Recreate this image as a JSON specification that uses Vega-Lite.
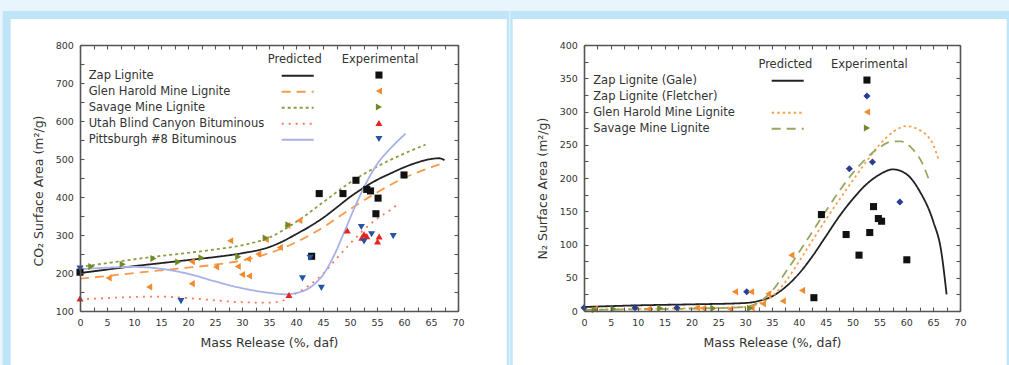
{
  "$schema": "https://vega.github.io/schema/vega-lite/v6.json",
  "background": "#e8f5fc",
  "padding": {"left": 2, "top": 10, "right": 0, "bottom": 0},
  "spacing": 0,
  "resolve": {"scale": {"color": "independent", "shape": "independent", "strokeDash": "independent"}},
  "config": {
    "font": "DejaVu Sans",
    "view": {"stroke": null},
    "axis": {
      "labelFont": "DejaVu Sans", "labelFontSize": 9.5, "labelColor": "#333333",
      "titleFont": "DejaVu Sans", "titleFontSize": 12.5, "titleFontWeight": "normal", "titleColor": "#333333",
      "domainColor": "#555555", "domainWidth": 1.6, "tickColor": "#555555", "tickWidth": 1.1, "tickSize": -4,
      "grid": false, "labelFlush": false, "labelOverlap": false
    },
    "legend": {
      "labelFont": "DejaVu Sans", "labelFontSize": 11.5, "labelColor": "#333333",
      "titleFont": "DejaVu Sans", "titleFontSize": 11.5, "titleFontWeight": "normal", "titleColor": "#333333",
      "padding": 0, "titlePadding": 4, "orient": "none", "direction": "vertical",
      "labelLimit": 400, "titleLimit": 400
    }
  },
  "datasets": {
    "co2_pred": [
      {"series": "Zap Lignite", "x": 0, "y": 200}, {"series": "Zap Lignite", "x": 5, "y": 209}, {"series": "Zap Lignite", "x": 10, "y": 218}, {"series": "Zap Lignite", "x": 15, "y": 226}, {"series": "Zap Lignite", "x": 20, "y": 234}, {"series": "Zap Lignite", "x": 25, "y": 242}, {"series": "Zap Lignite", "x": 30, "y": 252}, {"series": "Zap Lignite", "x": 35, "y": 268}, {"series": "Zap Lignite", "x": 37.5, "y": 283}, {"series": "Zap Lignite", "x": 40, "y": 302}, {"series": "Zap Lignite", "x": 42.5, "y": 322}, {"series": "Zap Lignite", "x": 45, "y": 345}, {"series": "Zap Lignite", "x": 47.5, "y": 372}, {"series": "Zap Lignite", "x": 50, "y": 400}, {"series": "Zap Lignite", "x": 52.5, "y": 424}, {"series": "Zap Lignite", "x": 55, "y": 445}, {"series": "Zap Lignite", "x": 57.5, "y": 462}, {"series": "Zap Lignite", "x": 60, "y": 478}, {"series": "Zap Lignite", "x": 62.5, "y": 491}, {"series": "Zap Lignite", "x": 65, "y": 500}, {"series": "Zap Lignite", "x": 66.5, "y": 502}, {"series": "Zap Lignite", "x": 67.5, "y": 497},
      {"series": "Glen Harold Mine Lignite", "x": 0, "y": 185}, {"series": "Glen Harold Mine Lignite", "x": 5, "y": 192}, {"series": "Glen Harold Mine Lignite", "x": 10, "y": 200}, {"series": "Glen Harold Mine Lignite", "x": 15, "y": 207}, {"series": "Glen Harold Mine Lignite", "x": 20, "y": 214}, {"series": "Glen Harold Mine Lignite", "x": 25, "y": 222}, {"series": "Glen Harold Mine Lignite", "x": 30, "y": 233}, {"series": "Glen Harold Mine Lignite", "x": 35, "y": 252}, {"series": "Glen Harold Mine Lignite", "x": 40, "y": 281}, {"series": "Glen Harold Mine Lignite", "x": 45, "y": 320}, {"series": "Glen Harold Mine Lignite", "x": 50, "y": 368}, {"series": "Glen Harold Mine Lignite", "x": 55, "y": 412}, {"series": "Glen Harold Mine Lignite", "x": 60, "y": 450}, {"series": "Glen Harold Mine Lignite", "x": 65, "y": 478}, {"series": "Glen Harold Mine Lignite", "x": 67.5, "y": 490},
      {"series": "Savage Mine Lignite", "x": 0, "y": 216}, {"series": "Savage Mine Lignite", "x": 5, "y": 226}, {"series": "Savage Mine Lignite", "x": 10, "y": 236}, {"series": "Savage Mine Lignite", "x": 15, "y": 245}, {"series": "Savage Mine Lignite", "x": 20, "y": 253}, {"series": "Savage Mine Lignite", "x": 25, "y": 262}, {"series": "Savage Mine Lignite", "x": 30, "y": 273}, {"series": "Savage Mine Lignite", "x": 35, "y": 293}, {"series": "Savage Mine Lignite", "x": 40, "y": 334}, {"series": "Savage Mine Lignite", "x": 45, "y": 386}, {"series": "Savage Mine Lignite", "x": 50, "y": 438}, {"series": "Savage Mine Lignite", "x": 55, "y": 480}, {"series": "Savage Mine Lignite", "x": 60, "y": 514}, {"series": "Savage Mine Lignite", "x": 64, "y": 538},
      {"series": "Utah Blind Canyon Bituminous", "x": 0, "y": 131}, {"series": "Utah Blind Canyon Bituminous", "x": 5, "y": 134}, {"series": "Utah Blind Canyon Bituminous", "x": 10, "y": 137}, {"series": "Utah Blind Canyon Bituminous", "x": 15, "y": 138}, {"series": "Utah Blind Canyon Bituminous", "x": 20, "y": 134}, {"series": "Utah Blind Canyon Bituminous", "x": 25, "y": 128}, {"series": "Utah Blind Canyon Bituminous", "x": 30, "y": 123}, {"series": "Utah Blind Canyon Bituminous", "x": 35, "y": 122}, {"series": "Utah Blind Canyon Bituminous", "x": 37.5, "y": 127}, {"series": "Utah Blind Canyon Bituminous", "x": 40, "y": 146}, {"series": "Utah Blind Canyon Bituminous", "x": 42.5, "y": 168}, {"series": "Utah Blind Canyon Bituminous", "x": 45, "y": 198}, {"series": "Utah Blind Canyon Bituminous", "x": 47.5, "y": 238}, {"series": "Utah Blind Canyon Bituminous", "x": 50, "y": 277}, {"series": "Utah Blind Canyon Bituminous", "x": 52.5, "y": 313}, {"series": "Utah Blind Canyon Bituminous", "x": 55, "y": 343}, {"series": "Utah Blind Canyon Bituminous", "x": 57.5, "y": 366}, {"series": "Utah Blind Canyon Bituminous", "x": 58.5, "y": 377},
      {"series": "Pittsburgh #8 Bituminous", "x": 0, "y": 210}, {"series": "Pittsburgh #8 Bituminous", "x": 5, "y": 214}, {"series": "Pittsburgh #8 Bituminous", "x": 10, "y": 216}, {"series": "Pittsburgh #8 Bituminous", "x": 15, "y": 211}, {"series": "Pittsburgh #8 Bituminous", "x": 20, "y": 198}, {"series": "Pittsburgh #8 Bituminous", "x": 25, "y": 178}, {"series": "Pittsburgh #8 Bituminous", "x": 30, "y": 160}, {"series": "Pittsburgh #8 Bituminous", "x": 35, "y": 148}, {"series": "Pittsburgh #8 Bituminous", "x": 38, "y": 144}, {"series": "Pittsburgh #8 Bituminous", "x": 41, "y": 151}, {"series": "Pittsburgh #8 Bituminous", "x": 43, "y": 166}, {"series": "Pittsburgh #8 Bituminous", "x": 45, "y": 195}, {"series": "Pittsburgh #8 Bituminous", "x": 47, "y": 245}, {"series": "Pittsburgh #8 Bituminous", "x": 49, "y": 310}, {"series": "Pittsburgh #8 Bituminous", "x": 51, "y": 377}, {"series": "Pittsburgh #8 Bituminous", "x": 53, "y": 437}, {"series": "Pittsburgh #8 Bituminous", "x": 55, "y": 486}, {"series": "Pittsburgh #8 Bituminous", "x": 57.5, "y": 528}, {"series": "Pittsburgh #8 Bituminous", "x": 60.3, "y": 567}
    ],
    "co2_exp": [
      {"series": "Zap Lignite", "x": 0, "y": 202}, {"series": "Zap Lignite", "x": 42.9, "y": 244}, {"series": "Zap Lignite", "x": 44.3, "y": 409}, {"series": "Zap Lignite", "x": 48.7, "y": 409}, {"series": "Zap Lignite", "x": 51.1, "y": 444}, {"series": "Zap Lignite", "x": 53.1, "y": 420}, {"series": "Zap Lignite", "x": 53.8, "y": 416}, {"series": "Zap Lignite", "x": 55.2, "y": 397}, {"series": "Zap Lignite", "x": 54.8, "y": 356}, {"series": "Zap Lignite", "x": 60, "y": 458},
      {"series": "Glen Harold Mine Lignite", "x": 5.3, "y": 187}, {"series": "Glen Harold Mine Lignite", "x": 12.8, "y": 163}, {"series": "Glen Harold Mine Lignite", "x": 20.7, "y": 172}, {"series": "Glen Harold Mine Lignite", "x": 20.7, "y": 230}, {"series": "Glen Harold Mine Lignite", "x": 25.2, "y": 216}, {"series": "Glen Harold Mine Lignite", "x": 27.8, "y": 285}, {"series": "Glen Harold Mine Lignite", "x": 29.2, "y": 217}, {"series": "Glen Harold Mine Lignite", "x": 30, "y": 196}, {"series": "Glen Harold Mine Lignite", "x": 31.3, "y": 192}, {"series": "Glen Harold Mine Lignite", "x": 31.1, "y": 237}, {"series": "Glen Harold Mine Lignite", "x": 33, "y": 250}, {"series": "Glen Harold Mine Lignite", "x": 34.4, "y": 288}, {"series": "Glen Harold Mine Lignite", "x": 37, "y": 267}, {"series": "Glen Harold Mine Lignite", "x": 38.4, "y": 325}, {"series": "Glen Harold Mine Lignite", "x": 40.6, "y": 338},
      {"series": "Savage Mine Lignite", "x": 2.1, "y": 217}, {"series": "Savage Mine Lignite", "x": 7.9, "y": 223}, {"series": "Savage Mine Lignite", "x": 13.6, "y": 238}, {"series": "Savage Mine Lignite", "x": 18.2, "y": 229}, {"series": "Savage Mine Lignite", "x": 22.5, "y": 240}, {"series": "Savage Mine Lignite", "x": 29.3, "y": 243}, {"series": "Savage Mine Lignite", "x": 34.4, "y": 292}, {"series": "Savage Mine Lignite", "x": 38.6, "y": 327},
      {"series": "Utah Blind Canyon Bituminous", "x": 0, "y": 133}, {"series": "Utah Blind Canyon Bituminous", "x": 38.7, "y": 142}, {"series": "Utah Blind Canyon Bituminous", "x": 49.5, "y": 312}, {"series": "Utah Blind Canyon Bituminous", "x": 52.2, "y": 293}, {"series": "Utah Blind Canyon Bituminous", "x": 52.6, "y": 302}, {"series": "Utah Blind Canyon Bituminous", "x": 53.1, "y": 297}, {"series": "Utah Blind Canyon Bituminous", "x": 55.1, "y": 283}, {"series": "Utah Blind Canyon Bituminous", "x": 55.4, "y": 296},
      {"series": "Pittsburgh #8 Bituminous", "x": 0, "y": 212}, {"series": "Pittsburgh #8 Bituminous", "x": 18.7, "y": 126}, {"series": "Pittsburgh #8 Bituminous", "x": 41.2, "y": 186}, {"series": "Pittsburgh #8 Bituminous", "x": 42.6, "y": 240}, {"series": "Pittsburgh #8 Bituminous", "x": 44.7, "y": 161}, {"series": "Pittsburgh #8 Bituminous", "x": 52.1, "y": 321}, {"series": "Pittsburgh #8 Bituminous", "x": 52.6, "y": 283}, {"series": "Pittsburgh #8 Bituminous", "x": 54, "y": 302}, {"series": "Pittsburgh #8 Bituminous", "x": 58, "y": 297}
    ],
    "n2_pred": [
      {"series": "Zap Lignite (Gale)", "x": 0, "y": 6}, {"series": "Zap Lignite (Gale)", "x": 10, "y": 8.5}, {"series": "Zap Lignite (Gale)", "x": 20, "y": 10}, {"series": "Zap Lignite (Gale)", "x": 30, "y": 12}, {"series": "Zap Lignite (Gale)", "x": 32.5, "y": 15}, {"series": "Zap Lignite (Gale)", "x": 35, "y": 22}, {"series": "Zap Lignite (Gale)", "x": 37.5, "y": 36}, {"series": "Zap Lignite (Gale)", "x": 40, "y": 56}, {"series": "Zap Lignite (Gale)", "x": 42.5, "y": 82}, {"series": "Zap Lignite (Gale)", "x": 45, "y": 112}, {"series": "Zap Lignite (Gale)", "x": 47.5, "y": 142}, {"series": "Zap Lignite (Gale)", "x": 50, "y": 168}, {"series": "Zap Lignite (Gale)", "x": 52.5, "y": 190}, {"series": "Zap Lignite (Gale)", "x": 55, "y": 205}, {"series": "Zap Lignite (Gale)", "x": 57.5, "y": 213}, {"series": "Zap Lignite (Gale)", "x": 60, "y": 206}, {"series": "Zap Lignite (Gale)", "x": 62.5, "y": 180}, {"series": "Zap Lignite (Gale)", "x": 65, "y": 135}, {"series": "Zap Lignite (Gale)", "x": 66.5, "y": 90}, {"series": "Zap Lignite (Gale)", "x": 67.5, "y": 25},
      {"series": "Glen Harold Mine Lignite", "x": 0, "y": 2}, {"series": "Glen Harold Mine Lignite", "x": 10, "y": 3}, {"series": "Glen Harold Mine Lignite", "x": 20, "y": 4}, {"series": "Glen Harold Mine Lignite", "x": 30, "y": 6}, {"series": "Glen Harold Mine Lignite", "x": 32.5, "y": 11}, {"series": "Glen Harold Mine Lignite", "x": 35, "y": 22}, {"series": "Glen Harold Mine Lignite", "x": 37.5, "y": 44}, {"series": "Glen Harold Mine Lignite", "x": 40, "y": 74}, {"series": "Glen Harold Mine Lignite", "x": 42.5, "y": 106}, {"series": "Glen Harold Mine Lignite", "x": 45, "y": 137}, {"series": "Glen Harold Mine Lignite", "x": 47.5, "y": 167}, {"series": "Glen Harold Mine Lignite", "x": 50, "y": 196}, {"series": "Glen Harold Mine Lignite", "x": 52.5, "y": 224}, {"series": "Glen Harold Mine Lignite", "x": 55, "y": 250}, {"series": "Glen Harold Mine Lignite", "x": 57.5, "y": 269}, {"series": "Glen Harold Mine Lignite", "x": 60, "y": 278}, {"series": "Glen Harold Mine Lignite", "x": 62.5, "y": 272}, {"series": "Glen Harold Mine Lignite", "x": 65, "y": 250}, {"series": "Glen Harold Mine Lignite", "x": 66, "y": 228},
      {"series": "Savage Mine Lignite", "x": 0, "y": 1.5}, {"series": "Savage Mine Lignite", "x": 10, "y": 2.5}, {"series": "Savage Mine Lignite", "x": 20, "y": 3.5}, {"series": "Savage Mine Lignite", "x": 30, "y": 6}, {"series": "Savage Mine Lignite", "x": 32.5, "y": 13}, {"series": "Savage Mine Lignite", "x": 35, "y": 30}, {"series": "Savage Mine Lignite", "x": 37.5, "y": 58}, {"series": "Savage Mine Lignite", "x": 40, "y": 88}, {"series": "Savage Mine Lignite", "x": 42.5, "y": 119}, {"series": "Savage Mine Lignite", "x": 45, "y": 150}, {"series": "Savage Mine Lignite", "x": 47.5, "y": 180}, {"series": "Savage Mine Lignite", "x": 50, "y": 207}, {"series": "Savage Mine Lignite", "x": 52.5, "y": 229}, {"series": "Savage Mine Lignite", "x": 55, "y": 246}, {"series": "Savage Mine Lignite", "x": 57.5, "y": 255}, {"series": "Savage Mine Lignite", "x": 59, "y": 255}, {"series": "Savage Mine Lignite", "x": 61, "y": 245}, {"series": "Savage Mine Lignite", "x": 63, "y": 222}, {"series": "Savage Mine Lignite", "x": 64.4, "y": 193}
    ],
    "n2_exp": [
      {"series": "Zap Lignite (Gale)", "x": 42.8, "y": 20}, {"series": "Zap Lignite (Gale)", "x": 44.2, "y": 145}, {"series": "Zap Lignite (Gale)", "x": 48.8, "y": 115}, {"series": "Zap Lignite (Gale)", "x": 51.2, "y": 84}, {"series": "Zap Lignite (Gale)", "x": 53.2, "y": 118}, {"series": "Zap Lignite (Gale)", "x": 53.9, "y": 157}, {"series": "Zap Lignite (Gale)", "x": 54.8, "y": 139}, {"series": "Zap Lignite (Gale)", "x": 55.4, "y": 135}, {"series": "Zap Lignite (Gale)", "x": 60.1, "y": 77},
      {"series": "Zap Lignite (Fletcher)", "x": 0, "y": 5}, {"series": "Zap Lignite (Fletcher)", "x": 9.5, "y": 5}, {"series": "Zap Lignite (Fletcher)", "x": 17.3, "y": 5}, {"series": "Zap Lignite (Fletcher)", "x": 30.3, "y": 29}, {"series": "Zap Lignite (Fletcher)", "x": 49.4, "y": 214}, {"series": "Zap Lignite (Fletcher)", "x": 53.7, "y": 224}, {"series": "Zap Lignite (Fletcher)", "x": 58.8, "y": 164},
      {"series": "Glen Harold Mine Lignite", "x": 2, "y": 3}, {"series": "Glen Harold Mine Lignite", "x": 12, "y": 3}, {"series": "Glen Harold Mine Lignite", "x": 21, "y": 5}, {"series": "Glen Harold Mine Lignite", "x": 22.2, "y": 4}, {"series": "Glen Harold Mine Lignite", "x": 27.2, "y": 3}, {"series": "Glen Harold Mine Lignite", "x": 28.1, "y": 29}, {"series": "Glen Harold Mine Lignite", "x": 31.1, "y": 29}, {"series": "Glen Harold Mine Lignite", "x": 31.2, "y": 5}, {"series": "Glen Harold Mine Lignite", "x": 33.3, "y": 11}, {"series": "Glen Harold Mine Lignite", "x": 34.3, "y": 26}, {"series": "Glen Harold Mine Lignite", "x": 37, "y": 15}, {"series": "Glen Harold Mine Lignite", "x": 38.6, "y": 84}, {"series": "Glen Harold Mine Lignite", "x": 40.6, "y": 31},
      {"series": "Savage Mine Lignite", "x": 2, "y": 2}, {"series": "Savage Mine Lignite", "x": 5.5, "y": 3}, {"series": "Savage Mine Lignite", "x": 14.2, "y": 4}, {"series": "Savage Mine Lignite", "x": 24.1, "y": 4}, {"series": "Savage Mine Lignite", "x": 30.9, "y": 4}
    ]
  },
  "hconcat": [
    {
      "width": 378,
      "height": 266,
      "resolve": {"scale": {"color": "independent", "strokeDash": "independent", "shape": "independent"}, "axis": {"x": "independent", "y": "independent"}},
      "layer": [
        {
          "data": {"values": [{}]},
          "mark": {"type": "rect", "fill": "#c0e4f8"},
          "encoding": {
            "x": {"datum": -14.315, "type": "quantitative", "scale": {"domain": [0, 70], "nice": false, "zero": false}, "axis": null},
            "x2": {"datum": 79.481},
            "y": {"datum": 889.47, "type": "quantitative", "scale": {"domain": [100, 800], "nice": false, "zero": false}, "axis": null},
            "y2": {"datum": -44.74}
          }
        },
        {
          "data": {"values": [{}]},
          "mark": {"type": "rect", "fill": "#ffffff"},
          "encoding": {
            "x": {"datum": -12.833, "type": "quantitative", "scale": {"domain": [0, 70], "nice": false, "zero": false},
              "axis": {"orient": "bottom", "zindex": 1, "values": [0, 2.5, 5, 7.5, 10, 12.5, 15, 17.5, 20, 22.5, 25, 27.5, 30, 32.5, 35, 37.5, 40, 42.5, 45, 47.5, 50, 52.5, 55, 57.5, 60, 62.5, 65, 67.5, 70],
                "labelExpr": "datum.value % 5 === 0 ? datum.label : ''", "title": "Mass Release (%, daf)", "labelPadding": 10, "titleY": 31.7, "titleBaseline": "middle"}},
            "x2": {"datum": 79.019},
            "y": {"datum": 868.42, "type": "quantitative", "scale": {"domain": [100, 800], "nice": false, "zero": false},
              "axis": {"orient": "left", "zindex": 1, "values": [100, 150, 200, 250, 300, 350, 400, 450, 500, 550, 600, 650, 700, 750, 800],
                "labelExpr": "datum.value % 100 === 0 ? datum.label : ''", "title": "CO₂ Surface Area (m²/g)", "labelPadding": 10.6, "titleX": -41.6, "titleY": 145.5, "titleBaseline": "middle"}},
            "y2": {"datum": -44.74}
          }
        },
        {
          "data": {"name": "co2_pred"},
          "mark": {"type": "line", "interpolate": "monotone", "strokeWidth": 1.8},
          "encoding": {
            "x": {"field": "x", "type": "quantitative", "scale": {"domain": [0, 70], "nice": false, "zero": false},
              "axis": {"orient": "top", "zindex": 1, "values": [0, 2.5, 5, 7.5, 10, 12.5, 15, 17.5, 20, 22.5, 25, 27.5, 30, 32.5, 35, 37.5, 40, 42.5, 45, 47.5, 50, 52.5, 55, 57.5, 60, 62.5, 65, 67.5, 70], "labels": false, "title": null}},
            "y": {"field": "y", "type": "quantitative", "scale": {"domain": [100, 800], "nice": false, "zero": false},
              "axis": {"orient": "right", "zindex": 1, "values": [100, 150, 200, 250, 300, 350, 400, 450, 500, 550, 600, 650, 700, 750, 800], "labels": false, "title": null}},
            "color": {"field": "series", "type": "nominal",
              "scale": {"domain": ["Zap Lignite", "Glen Harold Mine Lignite", "Savage Mine Lignite", "Utah Blind Canyon Bituminous", "Pittsburgh #8 Bituminous"],
                "range": ["#222222", "#f79a4a", "#8c9c45", "#fb7a5a", "#a9b0e6"]},
              "legend": {"title": "Predicted", "legendX": 187.7, "legendY": 8.8, "symbolType": "M-3,0H3", "symbolSize": 114, "symbolStrokeWidth": 2, "symbolOffset": 23.5, "labelOffset": -215.5, "rowPadding": 4}},
            "strokeDash": {"field": "series", "type": "nominal",
              "scale": {"domain": ["Zap Lignite", "Glen Harold Mine Lignite", "Savage Mine Lignite", "Utah Blind Canyon Bituminous", "Pittsburgh #8 Bituminous"],
                "range": [[1, 0], [9, 6], [3, 3], [2, 5], [1, 0]]},
              "legend": {"title": "Predicted", "legendX": 187.7, "legendY": 8.8, "symbolType": "M-3,0H3", "symbolSize": 114, "symbolStrokeWidth": 2, "symbolOffset": 23.5, "labelOffset": -215.5, "rowPadding": 4}}
          }
        },
        {
          "data": {"name": "co2_exp"},
          "mark": {"type": "point", "filled": true, "opacity": 1, "size": 50},
          "encoding": {
            "x": {"field": "x", "type": "quantitative", "scale": {"domain": [0, 70], "nice": false, "zero": false}, "axis": null},
            "y": {"field": "y", "type": "quantitative", "scale": {"domain": [100, 800], "nice": false, "zero": false}, "axis": null},
            "color": {"field": "series", "type": "nominal", "sort": null,
              "scale": {"range": ["#111111", "#f28a2e", "#6f8a2a", "#e8231c", "#2454a6"]},
              "legend": {"title": "Experimental", "legendX": 261.7, "legendY": 8.8, "symbolSize": 50, "symbolOffset": 31.5, "labelOpacity": 0, "labelColor": "rgba(0,0,0,0)", "labelOffset": 4, "labelLimit": 14, "rowPadding": 3}},
            "shape": {"field": "series", "type": "nominal", "sort": null,
              "scale": {"range": ["square", "triangle-left", "triangle-right", "triangle-up", "triangle-down"]},
              "legend": {"title": "Experimental", "legendX": 261.7, "legendY": 8.8, "symbolSize": 50, "symbolOffset": 31.5, "labelOpacity": 0, "labelColor": "rgba(0,0,0,0)", "labelOffset": 4, "labelLimit": 14, "rowPadding": 3}}
          }
        }
      ]
    },
    {
      "width": 376,
      "height": 266,
      "resolve": {"scale": {"color": "independent", "strokeDash": "independent", "shape": "independent"}, "axis": {"x": "independent", "y": "independent"}},
      "layer": [
        {
          "data": {"values": [{}]},
          "mark": {"type": "rect", "fill": "#c0e4f8"},
          "encoding": {
            "x": {"datum": -13.739, "type": "quantitative", "scale": {"domain": [0, 70], "nice": false, "zero": false}, "axis": null},
            "x2": {"datum": 79.438},
            "y": {"datum": 451.13, "type": "quantitative", "scale": {"domain": [0, 400], "nice": false, "zero": false}, "axis": null},
            "y2": {"datum": -82.71}
          }
        },
        {
          "data": {"values": [{}]},
          "mark": {"type": "rect", "fill": "#ffffff"},
          "encoding": {
            "x": {"datum": -13.274, "type": "quantitative", "scale": {"domain": [0, 70], "nice": false, "zero": false},
              "axis": {"orient": "bottom", "zindex": 1, "values": [0, 2.5, 5, 7.5, 10, 12.5, 15, 17.5, 20, 22.5, 25, 27.5, 30, 32.5, 35, 37.5, 40, 42.5, 45, 47.5, 50, 52.5, 55, 57.5, 60, 62.5, 65, 67.5, 70],
                "labelExpr": "datum.value % 5 === 0 ? datum.label : ''", "title": "Mass Release (%, daf)", "labelPadding": 10, "titleY": 31.7, "titleBaseline": "middle"}},
            "x2": {"datum": 78.694},
            "y": {"datum": 439.1, "type": "quantitative", "scale": {"domain": [0, 400], "nice": false, "zero": false},
              "axis": {"orient": "left", "zindex": 1, "values": [0, 25, 50, 75, 100, 125, 150, 175, 200, 225, 250, 275, 300, 325, 350, 375, 400],
                "labelExpr": "datum.value % 50 === 0 ? datum.label : ''", "title": "N₂ Surface Area (m²/g)", "labelPadding": 10.6, "titleX": -41.3, "titleY": 143, "titleBaseline": "middle"}},
            "y2": {"datum": -82.71}
          }
        },
        {
          "data": {"name": "n2_pred"},
          "mark": {"type": "line", "interpolate": "monotone", "strokeWidth": 1.8},
          "encoding": {
            "x": {"field": "x", "type": "quantitative", "scale": {"domain": [0, 70], "nice": false, "zero": false},
              "axis": {"orient": "top", "zindex": 1, "values": [0, 2.5, 5, 7.5, 10, 12.5, 15, 17.5, 20, 22.5, 25, 27.5, 30, 32.5, 35, 37.5, 40, 42.5, 45, 47.5, 50, 52.5, 55, 57.5, 60, 62.5, 65, 67.5, 70], "labels": false, "title": null}},
            "y": {"field": "y", "type": "quantitative", "scale": {"domain": [0, 400], "nice": false, "zero": false},
              "axis": {"orient": "right", "zindex": 1, "values": [0, 25, 50, 75, 100, 125, 150, 175, 200, 225, 250, 275, 300, 325, 350, 375, 400], "labels": false, "title": null}},
            "color": {"field": "series", "type": "nominal",
              "scale": {"domain": ["Zap Lignite (Gale)", "Zap Lignite (Fletcher)", "Glen Harold Mine Lignite", "Savage Mine Lignite"],
                "range": ["#222222", "transparent", "#f7a04f", "#98a860"]},
              "legend": {"title": "Predicted", "legendX": 174.4, "legendY": 13.8, "symbolType": "M-3,0H3", "symbolSize": 114, "symbolStrokeWidth": 2, "symbolOffset": 22.8, "labelOffset": -201, "rowPadding": 4}},
            "strokeDash": {"field": "series", "type": "nominal",
              "scale": {"domain": ["Zap Lignite (Gale)", "Zap Lignite (Fletcher)", "Glen Harold Mine Lignite", "Savage Mine Lignite"],
                "range": [[1, 0], [1, 0], [2.5, 3], [9, 6]]},
              "legend": {"title": "Predicted", "legendX": 174.4, "legendY": 13.8, "symbolType": "M-3,0H3", "symbolSize": 114, "symbolStrokeWidth": 2, "symbolOffset": 22.8, "labelOffset": -201, "rowPadding": 4}}
          }
        },
        {
          "data": {"name": "n2_exp"},
          "mark": {"type": "point", "filled": true, "opacity": 1, "size": 50},
          "encoding": {
            "x": {"field": "x", "type": "quantitative", "scale": {"domain": [0, 70], "nice": false, "zero": false}, "axis": null},
            "y": {"field": "y", "type": "quantitative", "scale": {"domain": [0, 400], "nice": false, "zero": false}, "axis": null},
            "color": {"field": "series", "type": "nominal", "sort": null,
              "scale": {"range": ["#111111", "#2a3d94", "#f28a2e", "#6f8a2a"]},
              "legend": {"title": "Experimental", "legendX": 247, "legendY": 13.8, "symbolSize": 50, "symbolOffset": 30.2, "labelOpacity": 0, "labelColor": "rgba(0,0,0,0)", "labelOffset": 4, "labelLimit": 14, "rowPadding": 3}},
            "shape": {"field": "series", "type": "nominal", "sort": null,
              "scale": {"range": ["square", "diamond", "triangle-left", "triangle-right"]},
              "legend": {"title": "Experimental", "legendX": 247, "legendY": 13.8, "symbolSize": 50, "symbolOffset": 30.2, "labelOpacity": 0, "labelColor": "rgba(0,0,0,0)", "labelOffset": 4, "labelLimit": 14, "rowPadding": 3}}
          }
        }
      ]
    }
  ]
}
